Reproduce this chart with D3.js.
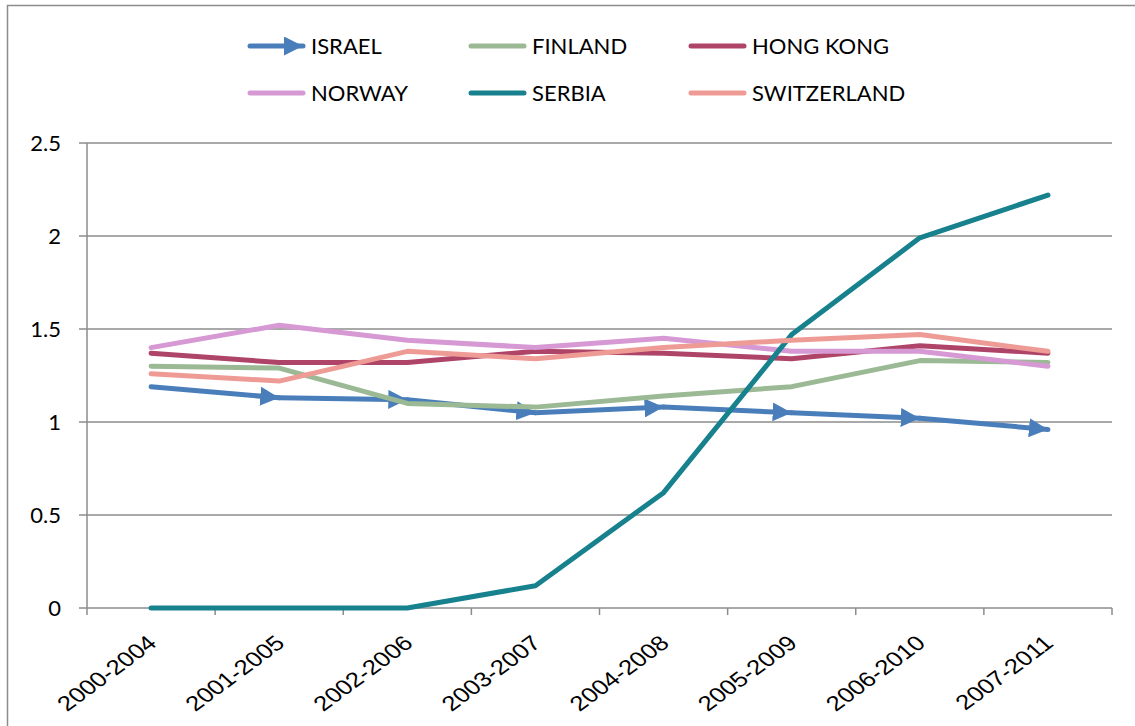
<!DOCTYPE html>
<html>
<head>
<meta charset="utf-8">
<script src="https://cdn.jsdelivr.net/npm/d3@7"></script>
<style>
  html, body { margin: 0; padding: 0; background: #fff; overflow: hidden; }
  svg { display: block; }
</style>
</head>
<body>
<svg id="chart" width="1135" height="726"></svg>
<script>
const categories = ["2000-2004","2001-2005","2002-2006","2003-2007","2004-2008","2005-2009","2006-2010","2007-2011"];
const israel      = [1.19, 1.13, 1.12, 1.05, 1.08, 1.05, 1.02, 0.96];
const finland     = [1.30, 1.29, 1.10, 1.08, 1.14, 1.19, 1.33, 1.32];
const hongKong    = [1.37, 1.32, 1.32, 1.38, 1.37, 1.34, 1.41, 1.37];
const norway      = [1.40, 1.52, 1.44, 1.40, 1.45, 1.38, 1.38, 1.30];
const serbia      = [0, 0, 0, 0.12, 0.62, 1.47, 1.99, 2.22];
const switzerland = [1.26, 1.22, 1.38, 1.34, 1.40, 1.44, 1.47, 1.38];
const yTicks = [0, 0.5, 1, 1.5, 2, 2.5];
const yTickLabels = ["0", "0.5", "1", "1.5", "2", "2.5"];

const seriesNames = ["ISRAEL","FINLAND","HONG KONG","NORWAY","SERBIA","SWITZERLAND"];
const seriesColors = ["#4a7ebb","#9bb994","#ae4467","#d699d4","#17818e","#ef9b95"];
const seriesData = [israel, finland, hongKong, norway, serbia, switzerland];

const svg = d3.select("#chart");
const plotLeft = 87, plotRight = 1112, plotTop = 143, plotBottom = 608;

// outer border
svg.append("rect").attr("x", 7.5).attr("y", 5.5).attr("width", 1300).attr("height", 900)
  .attr("fill", "none").attr("stroke", "#8c8c8c").attr("stroke-width", 1.5);

const x = d3.scaleBand().domain(categories).range([plotLeft, plotRight]).padding(0);
const y = d3.scaleLinear().domain([0, 2.5]).range([plotBottom, plotTop]);

// gridlines
svg.append("g").selectAll("line").data(yTicks).join("line")
  .attr("x1", plotLeft - 8).attr("x2", plotRight)
  .attr("y1", d => y(d)).attr("y2", d => y(d))
  .attr("stroke", "#8c8c8c").attr("stroke-width", 1.5);

// y axis line
svg.append("line").attr("x1", plotLeft).attr("x2", plotLeft).attr("y1", plotTop).attr("y2", plotBottom)
  .attr("stroke", "#8c8c8c").attr("stroke-width", 1.5);

// y labels
svg.append("g").selectAll("text").data(yTicks).join("text")
  .attr("x", plotLeft - 26).attr("y", d => y(d)).attr("dy", "0.36em")
  .attr("text-anchor", "end")
  .attr("font-family", "Lato, 'Open Sans', sans-serif").attr("font-size", 22).attr("fill", "#000")
  .text((d, i) => yTickLabels[i]);

// x ticks at band boundaries
const boundaries = categories.map(c => x(c)).concat([x(categories[categories.length - 1]) + x.bandwidth()]);
svg.append("g").selectAll("line").data(boundaries).join("line")
  .attr("x1", d => d).attr("x2", d => d).attr("y1", plotBottom).attr("y2", plotBottom + 7)
  .attr("stroke", "#8c8c8c").attr("stroke-width", 1.5);

// x labels (slanted, slightly stretched like the reference)
const cx = c => x(c) + x.bandwidth() / 2;
svg.append("g").selectAll("text").data(categories).join("text")
  .attr("transform", c => `translate(${cx(c) + 7},${plotBottom + 37}) scale(1.22,1) rotate(-42)`)
  .attr("text-anchor", "end")
  .attr("font-family", "'Liberation Sans', Arial, sans-serif").attr("font-size", 21).attr("fill", "#000")
  .text(c => c);

// arrow marker
const defs = svg.append("defs");
defs.append("marker").attr("id", "arrow").attr("markerUnits", "userSpaceOnUse")
  .attr("viewBox", "0 0 18 18").attr("refX", 18).attr("refY", 9)
  .attr("markerWidth", 19).attr("markerHeight", 19).attr("orient", "auto")
  .append("path").attr("d", "M0,0 L18,9 L0,18 Z").attr("fill", seriesColors[0]);

const line = d3.line().x((d, i) => cx(categories[i])).y(d => y(d));

seriesData.forEach((data, si) => {
  if (si === 0) {
    const segs = d3.pairs(data.map((v, i) => [cx(categories[i]), y(v)]));
    svg.append("g").selectAll("line").data(segs).join("line")
      .attr("x1", d => d[0][0]).attr("y1", d => d[0][1])
      .attr("x2", d => d[1][0]).attr("y2", d => d[1][1])
      .attr("stroke", seriesColors[0]).attr("stroke-width", 5)
      .attr("stroke-linecap", "round")
      .attr("marker-end", "url(#arrow)");
  } else {
    svg.append("path").datum(data).attr("d", line)
      .attr("fill", "none").attr("stroke", seriesColors[si]).attr("stroke-width", 5)
      .attr("stroke-linejoin", "round").attr("stroke-linecap", "round");
  }
});

// legend
const legendCols = [250, 471, 691];
const legendRows = [46, 93];
const lg = svg.append("g");
seriesNames.forEach((name, i) => {
  const lx = legendCols[i % 3], ly = legendRows[Math.floor(i / 3)];
  const g = lg.append("g");
  g.append("line").attr("x1", lx).attr("x2", lx + 53).attr("y1", ly).attr("y2", ly)
    .attr("stroke", seriesColors[i]).attr("stroke-width", 5).attr("stroke-linecap", "round")
    .attr("marker-end", i === 0 ? "url(#arrow)" : null);
  g.append("text").attr("x", lx + 61).attr("y", ly).attr("dy", "0.36em")
    .attr("font-family", "Lato, 'Open Sans', sans-serif").attr("font-size", 22).attr("fill", "#000")
    .text(name);
});
</script>
</body>
</html>
